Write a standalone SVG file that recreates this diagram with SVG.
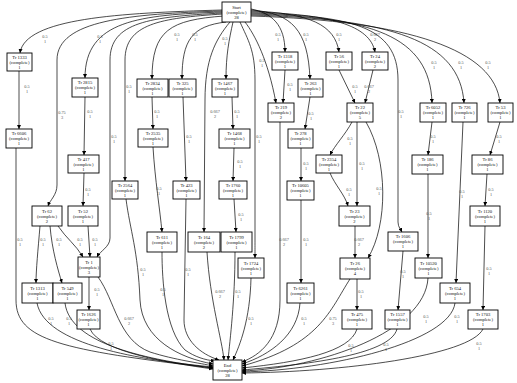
<svg xmlns="http://www.w3.org/2000/svg" width="517" height="383" viewBox="0 0 517 383">
<style>
rect{fill:#fff;stroke:#000;stroke-width:0.9}
text{font-family:"Liberation Serif","Times New Roman",serif;font-size:4.6px;text-anchor:middle;fill:#111}
.e path{fill:none;stroke:#000;stroke-width:0.7;marker-end:url(#a)}
.e text{font-size:4.3px;fill:#555}
</style>
<defs>
<marker id="a" viewBox="0 0 6 6" refX="6" refY="3" markerWidth="4" markerHeight="4" markerUnits="userSpaceOnUse" orient="auto"><path d="M0,0 L6,3 L0,6 z" fill="#000"/></marker>
</defs>
<rect x="0" y="0" width="517" height="383" style="stroke:none"/>
<g class="e" id="connectors">
<path d="M222,10 C120,13 25,18 20,53"/><text x="45" y="38">0.5</text><text x="45" y="43">1</text>
<path d="M222,11 C130,14 57,20 57,60 L57,185 C57,195 50,200 48,206"/><text x="62" y="114">0.75</text><text x="62" y="119">3</text>
<path d="M222,12 C140,15 85,20 85,78"/><text x="100" y="38">0.5</text><text x="100" y="43">1</text>
<path d="M222,13 C150,17 110,22 110,60 L110,238 C110,247 100,251 97,257"/><text x="114" y="138">0.5</text><text x="114" y="143">1</text>
<path d="M223,14 C160,18 125,24 125,60 L125,181"/><text x="129" y="88">0.5</text><text x="129" y="93">1</text>
<path d="M224,16 C170,20 152,30 152,79"/><text x="177" y="36">0.5</text><text x="177" y="41">1</text>
<path d="M226,22 C192,26 182,40 182,79"/><text x="195" y="36">0.5</text><text x="195" y="41">1</text>
<path d="M230,22 C215,40 205,60 205,100 L204,232"/><text x="215" y="113">0.667</text><text x="215" y="118">2</text>
<path d="M233,22 C229,40 226,55 226,79"/><text x="225" y="40">0.5</text><text x="225" y="45">1</text>
<path d="M240,22 C248,40 255,50 255,80 L255,240 C255,248 255,252 255,258"/><text x="259" y="138">0.5</text><text x="259" y="143">1</text>
<path d="M245,22 C255,35 268,60 276,103"/><text x="262" y="62">0.5</text><text x="262" y="67">1</text>
<path d="M251,9 C272,13 285,25 285,52"/><text x="278" y="36">0.5</text><text x="278" y="41">1</text>
<path d="M251,10 C292,13 308,30 310,79"/><text x="306" y="36">0.5</text><text x="306" y="41">1</text>
<path d="M251,11 C310,13 335,25 339,52"/><text x="339" y="36">0.5</text><text x="339" y="41">1</text>
<path d="M251,12 C330,14 370,25 375,52"/><text x="375" y="36">0.667</text><text x="375" y="41">2</text>
<path d="M251,13 C350,16 398,25 398,80 L398,222 C398,227 401,230 402,232"/><text x="401" y="113">0.5</text><text x="401" y="118">1</text>
<path d="M251,14 C370,17 430,35 432,103"/><text x="434" y="64">0.5</text><text x="434" y="69">1</text>
<path d="M251,15 C390,19 460,40 464,103"/><text x="461" y="64">0.5</text><text x="461" y="69">1</text>
<path d="M251,16 C410,21 495,50 500,103"/><text x="488" y="64">0.5</text><text x="488" y="69">1</text>
<path d="M19,71 L19,129"/><text x="27" y="88">0.5</text><text x="27" y="93">1</text>
<path d="M85,97 L84,155"/><text x="90" y="113">0.5</text><text x="90" y="118">1</text>
<path d="M84,173 L83,206"/><text x="88" y="191">0.5</text><text x="88" y="196">1</text>
<path d="M40,226 C38,250 36,270 36,283"/><text x="43" y="241">0.5</text><text x="43" y="246">1</text>
<path d="M50,226 C52,250 58,270 62,283"/><text x="59" y="241">0.5</text><text x="59" y="246">1</text>
<path d="M58,226 C66,238 76,245 83,257"/><text x="80" y="241">0.5</text><text x="80" y="246">1</text>
<path d="M88,226 L90,257"/><text x="95" y="241">0.5</text><text x="95" y="246">1</text>
<path d="M89,277 L89,310"/><text x="97" y="291">0.5</text><text x="97" y="296">1</text>
<path d="M152,97 L153,129"/><text x="157" y="113">0.5</text><text x="157" y="118">1</text>
<path d="M153,147 C155,180 160,210 162,232"/><text x="159" y="190">0.5</text><text x="159" y="195">1</text>
<path d="M183,97 L186,181"/><text x="189" y="138">0.5</text><text x="189" y="143">1</text>
<path d="M232,97 L233,129"/><text x="237" y="113">0.5</text><text x="237" y="118">1</text>
<path d="M234,148 L233,181"/><text x="240" y="163">0.5</text><text x="240" y="168">1</text>
<path d="M234,199 L236,232"/><text x="241" y="216">0.5</text><text x="241" y="221">1</text>
<path d="M285,70 L283,103"/><text x="290" y="86">0.5</text><text x="290" y="91">1</text>
<path d="M310,97 L305,129"/><text x="311" y="115">0.5</text><text x="311" y="120">1</text>
<path d="M301,148 L301,181"/><text x="306" y="165">0.5</text><text x="306" y="170">1</text>
<path d="M301,200 L301,283"/><text x="306" y="241">0.5</text><text x="306" y="246">1</text>
<path d="M339,70 L355,103"/><text x="355" y="88">0.5</text><text x="355" y="93">1</text>
<path d="M373,70 L365,103"/><text x="369" y="88">0.667</text><text x="369" y="93">2</text>
<path d="M352,122 C345,135 335,145 330,155"/><text x="350" y="140">0.5</text><text x="350" y="145">1</text>
<path d="M357,122 L357,206"/><text x="362" y="165">0.5</text><text x="362" y="170">1</text>
<path d="M330,173 C335,185 345,195 348,206"/><text x="349" y="191">0.5</text><text x="349" y="196">1</text>
<path d="M366,122 C388,160 388,225 368,258"/><text x="379" y="190">0.5</text><text x="379" y="195">1</text>
<path d="M355,226 L355,258"/><text x="359" y="241">0.667</text><text x="359" y="246">2</text>
<path d="M357,279 L357,310"/><text x="361" y="293">0.5</text><text x="361" y="298">1</text>
<path d="M403,251 L398,310"/><text x="403" y="273">0.5</text><text x="403" y="278">1</text>
<path d="M432,122 L428,155"/><text x="433" y="138">0.5</text><text x="433" y="143">1</text>
<path d="M428,174 L428,258"/><text x="429" y="215">0.5</text><text x="429" y="220">1</text>
<path d="M463,122 L456,283"/><text x="462" y="193">0.5</text><text x="462" y="198">1</text>
<path d="M500,122 L490,155"/><text x="499" y="138">0.5</text><text x="499" y="143">1</text>
<path d="M487,174 L485,206"/><text x="491" y="191">0.5</text><text x="491" y="196">1</text>
<path d="M485,226 L483,310"/><text x="489" y="270">0.5</text><text x="489" y="275">1</text>
<path d="M16,148 L16,300 C16,340 60,350 213,368"/><text x="20" y="241">0.5</text><text x="20" y="246">1</text>
<path d="M37,303 C45,345 140,360 213,367"/><text x="51" y="320">0.5</text><text x="51" y="325">1</text>
<path d="M65,303 C70,345 150,360 213,368"/><text x="69" y="320">0.5</text><text x="69" y="325">1</text>
<path d="M90,329 C100,352 170,363 213,369"/><text x="111" y="345">0.5</text><text x="111" y="350">1</text>
<path d="M98,277 C115,300 118,340 150,352 C175,360 200,363 213,366"/><text x="129" y="320">0.667</text><text x="129" y="325">2</text>
<path d="M126,199 C130,230 138,250 140,300 C142,340 180,358 213,364"/><text x="143" y="271">0.5</text><text x="143" y="276">1</text>
<path d="M162,252 C162,280 165,330 185,350 C195,357 205,360 215,361"/><text x="163" y="291">0.5</text><text x="163" y="296">1</text>
<path d="M186,199 L184,320 C184,340 200,354 219,360"/><text x="188" y="271">0.5</text><text x="188" y="276">1</text>
<path d="M207,252 C210,300 222,340 224,360"/><text x="220" y="293">0.667</text><text x="220" y="298">2</text>
<path d="M235,252 C235,300 230,340 228,360"/><text x="238" y="293">0.5</text><text x="238" y="298">1</text>
<path d="M251,278 C250,320 240,345 233,360"/><text x="251" y="320">0.5</text><text x="251" y="325">1</text>
<path d="M280,122 L280,300 C280,340 260,355 242,362"/><text x="284" y="241">0.667</text><text x="284" y="246">2</text>
<path d="M300,303 C298,335 270,355 242,364"/><text x="304" y="320">0.5</text><text x="304" y="325">1</text>
<path d="M350,279 C330,310 320,345 242,366"/><text x="333" y="320">0.75</text><text x="333" y="325">3</text>
<path d="M357,329 C350,352 300,362 242,368"/><text x="351" y="347">0.5</text><text x="351" y="352">1</text>
<path d="M397,329 C390,356 300,365 242,370"/><text x="386" y="346">0.5</text><text x="386" y="351">1</text>
<path d="M428,278 C425,332 320,368 242,371"/><text x="426" y="318">0.5</text><text x="426" y="323">1</text>
<path d="M455,303 C450,342 330,370 242,372"/><text x="457" y="318">0.5</text><text x="457" y="323">1</text>
<path d="M483,329 C470,356 340,372 242,373"/><text x="479" y="345">0.5</text><text x="479" y="350">1</text>
</g>
<g id="start"><rect x="222" y="2" width="29" height="20"/><text x="236.5" y="8.5">Start</text><text x="236.5" y="13.5">(complete)</text><text x="236.5" y="18.5">28</text></g>
<g id="end"><rect x="213" y="360" width="29" height="20"/><text x="227.5" y="366.5">End</text><text x="227.5" y="371.5">(complete)</text><text x="227.5" y="376.5">28</text></g>
<g id="t1333"><rect x="7" y="53" width="25" height="18"/><text x="19.5" y="59">Tr 1333</text><text x="19.5" y="64">(complete)</text><text x="19.5" y="69">1</text></g>
<g id="t1318"><rect x="272" y="52" width="26" height="18"/><text x="285" y="58">Tr 1318</text><text x="285" y="63">(complete)</text><text x="285" y="68">1</text></g>
<g id="t56"><rect x="326" y="52" width="26" height="18"/><text x="339" y="58">Tr 56</text><text x="339" y="63">(complete)</text><text x="339" y="68">1</text></g>
<g id="t24"><rect x="362" y="52" width="26" height="18"/><text x="375" y="58">Tr 24</text><text x="375" y="63">(complete)</text><text x="375" y="68">2</text></g>
<g id="t2815"><rect x="72" y="78" width="26" height="19"/><text x="85" y="84">Tr 2815</text><text x="85" y="89">(complete)</text><text x="85" y="94">1</text></g>
<g id="t2834"><rect x="137" y="79" width="31" height="18"/><text x="152.5" y="85">Tr 2834</text><text x="152.5" y="90">(complete)</text><text x="152.5" y="95">1</text></g>
<g id="t325"><rect x="169" y="79" width="27" height="18"/><text x="182.5" y="85">Tr 325</text><text x="182.5" y="90">(complete)</text><text x="182.5" y="95">1</text></g>
<g id="t1467"><rect x="212" y="79" width="26" height="18"/><text x="225" y="85">Tr 1467</text><text x="225" y="90">(complete)</text><text x="225" y="95">1</text></g>
<g id="t263"><rect x="298" y="79" width="25" height="18"/><text x="310.5" y="85">Tr 263</text><text x="310.5" y="90">(complete)</text><text x="310.5" y="95">1</text></g>
<g id="t219"><rect x="268" y="103" width="26" height="19"/><text x="281" y="109">Tr 219</text><text x="281" y="114">(complete)</text><text x="281" y="119">2</text></g>
<g id="t22"><rect x="347" y="103" width="26" height="19"/><text x="360" y="109">Tr 22</text><text x="360" y="114">(complete)</text><text x="360" y="119">5</text></g>
<g id="t6052"><rect x="420" y="103" width="26" height="19"/><text x="433" y="109">Tr 6052</text><text x="433" y="114">(complete)</text><text x="433" y="119">1</text></g>
<g id="t726"><rect x="452" y="103" width="25" height="19"/><text x="464.5" y="109">Tr 726</text><text x="464.5" y="114">(complete)</text><text x="464.5" y="119">1</text></g>
<g id="t53"><rect x="488" y="103" width="25" height="19"/><text x="500.5" y="109">Tr 53</text><text x="500.5" y="114">(complete)</text><text x="500.5" y="119">1</text></g>
<g id="t6606"><rect x="6" y="129" width="26" height="19"/><text x="19" y="135">Tr 6606</text><text x="19" y="140">(complete)</text><text x="19" y="145">1</text></g>
<g id="t2535"><rect x="138" y="129" width="30" height="18"/><text x="153" y="135">Tr 2535</text><text x="153" y="140">(complete)</text><text x="153" y="145">1</text></g>
<g id="t1468"><rect x="219" y="129" width="31" height="19"/><text x="234.5" y="135">Tr 1468</text><text x="234.5" y="140">(complete)</text><text x="234.5" y="145">1</text></g>
<g id="t278"><rect x="288" y="129" width="25" height="19"/><text x="300.5" y="135">Tr 278</text><text x="300.5" y="140">(complete)</text><text x="300.5" y="145">1</text></g>
<g id="t417"><rect x="68" y="155" width="31" height="18"/><text x="83.5" y="161">Tr 417</text><text x="83.5" y="166">(complete)</text><text x="83.5" y="171">1</text></g>
<g id="t2354"><rect x="316" y="155" width="26" height="18"/><text x="329" y="161">Tr 2354</text><text x="329" y="166">(complete)</text><text x="329" y="171">1</text></g>
<g id="t186"><rect x="412" y="155" width="31" height="19"/><text x="427.5" y="161">Tr 186</text><text x="427.5" y="166">(complete)</text><text x="427.5" y="171">1</text></g>
<g id="t86"><rect x="472" y="155" width="31" height="19"/><text x="487.5" y="161">Tr 86</text><text x="487.5" y="166">(complete)</text><text x="487.5" y="171">1</text></g>
<g id="t2564"><rect x="112" y="181" width="26" height="18"/><text x="125" y="187">Tr 2564</text><text x="125" y="192">(complete)</text><text x="125" y="197">1</text></g>
<g id="t423"><rect x="173" y="181" width="27" height="18"/><text x="186.5" y="187">Tr 423</text><text x="186.5" y="192">(complete)</text><text x="186.5" y="197">1</text></g>
<g id="t1760"><rect x="219" y="181" width="28" height="18"/><text x="233" y="187">Tr 1760</text><text x="233" y="192">(complete)</text><text x="233" y="197">1</text></g>
<g id="t10605"><rect x="287" y="181" width="27" height="19"/><text x="300.5" y="187">Tr 10605</text><text x="300.5" y="192">(complete)</text><text x="300.5" y="197">1</text></g>
<g id="t62"><rect x="32" y="206" width="30" height="20"/><text x="47" y="212.5">Tr 62</text><text x="47" y="217.5">(complete)</text><text x="47" y="222.5">2</text></g>
<g id="t52"><rect x="68" y="206" width="30" height="20"/><text x="83" y="212.5">Tr 52</text><text x="83" y="217.5">(complete)</text><text x="83" y="222.5">1</text></g>
<g id="t23"><rect x="339" y="206" width="31" height="20"/><text x="354.5" y="212.5">Tr 23</text><text x="354.5" y="217.5">(complete)</text><text x="354.5" y="222.5">2</text></g>
<g id="t1120"><rect x="470" y="206" width="30" height="20"/><text x="485" y="212.5">Tr 1120</text><text x="485" y="217.5">(complete)</text><text x="485" y="222.5">1</text></g>
<g id="t611"><rect x="147" y="232" width="30" height="20"/><text x="162" y="238.5">Tr 611</text><text x="162" y="243.5">(complete)</text><text x="162" y="248.5">1</text></g>
<g id="t164"><rect x="188" y="232" width="32" height="20"/><text x="204" y="238.5">Tr 164</text><text x="204" y="243.5">(complete)</text><text x="204" y="248.5">2</text></g>
<g id="t1799"><rect x="221" y="232" width="31" height="20"/><text x="236.5" y="238.5">Tr 1799</text><text x="236.5" y="243.5">(complete)</text><text x="236.5" y="248.5">1</text></g>
<g id="t1606"><rect x="388" y="232" width="30" height="19"/><text x="403" y="238">Tr 1606</text><text x="403" y="243">(complete)</text><text x="403" y="248">1</text></g>
<g id="t1"><rect x="78" y="257" width="22" height="20"/><text x="89" y="263.5">Tr 1</text><text x="89" y="268.5">(complete)</text><text x="89" y="273.5">3</text></g>
<g id="t1724"><rect x="238" y="258" width="26" height="20"/><text x="251" y="264.5">Tr 1724</text><text x="251" y="269.5">(complete)</text><text x="251" y="274.5">1</text></g>
<g id="t26"><rect x="340" y="258" width="30" height="21"/><text x="355" y="265">Tr 26</text><text x="355" y="270">(complete)</text><text x="355" y="275">4</text></g>
<g id="t10520"><rect x="415" y="258" width="27" height="20"/><text x="428.5" y="264.5">Tr 10520</text><text x="428.5" y="269.5">(complete)</text><text x="428.5" y="274.5">1</text></g>
<g id="t1313"><rect x="22" y="283" width="31" height="20"/><text x="37.5" y="289.5">Tr 1313</text><text x="37.5" y="294.5">(complete)</text><text x="37.5" y="299.5">1</text></g>
<g id="t549"><rect x="53" y="283" width="29" height="20"/><text x="67.5" y="289.5">Tr 549</text><text x="67.5" y="294.5">(complete)</text><text x="67.5" y="299.5">1</text></g>
<g id="t6261"><rect x="287" y="283" width="27" height="20"/><text x="300.5" y="289.5">Tr 6261</text><text x="300.5" y="294.5">(complete)</text><text x="300.5" y="299.5">1</text></g>
<g id="t654"><rect x="440" y="283" width="30" height="20"/><text x="455" y="289.5">Tr 654</text><text x="455" y="294.5">(complete)</text><text x="455" y="299.5">1</text></g>
<g id="t1626"><rect x="77" y="310" width="23" height="19"/><text x="88.5" y="316">Tr 1626</text><text x="88.5" y="321">(complete)</text><text x="88.5" y="326">1</text></g>
<g id="t475"><rect x="342" y="310" width="30" height="19"/><text x="357" y="316">Tr 475</text><text x="357" y="321">(complete)</text><text x="357" y="326">1</text></g>
<g id="t1557"><rect x="385" y="310" width="25" height="19"/><text x="397.5" y="316">Tr 1557</text><text x="397.5" y="321">(complete)</text><text x="397.5" y="326">1</text></g>
<g id="t1703"><rect x="468" y="310" width="30" height="19"/><text x="483" y="316">Tr 1703</text><text x="483" y="321">(complete)</text><text x="483" y="326">1</text></g>
</svg>
